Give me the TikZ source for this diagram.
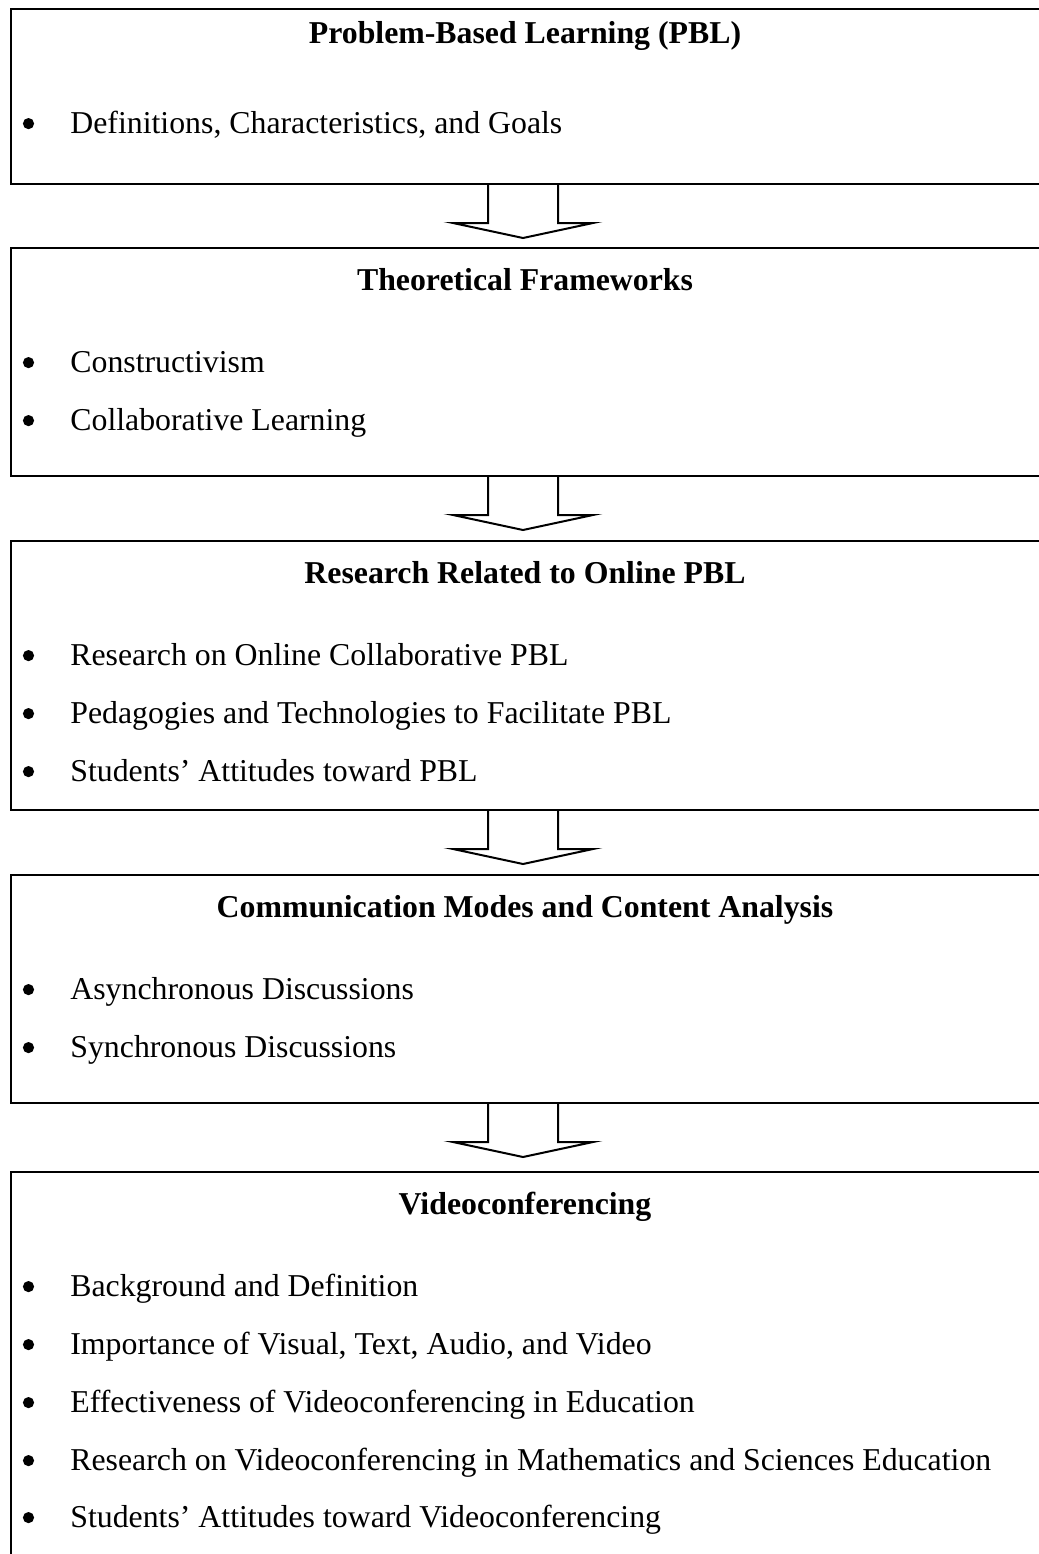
\documentclass[tikz,border=0pt]{standalone}
\usepackage{fontspec}
\setmainfont{Liberation Serif}
\usetikzlibrary{calc}
\begin{document}
\begin{tikzpicture}[x=0.5pt,y=-0.5pt,
  box/.style={draw,line width=1.4pt,inner sep=0pt,outer sep=0pt,minimum width=517pt},
  head/.style={font=\fontsize{15.9pt}{19pt}\selectfont\bfseries,anchor=base,inner sep=0pt},
  itemtext/.style={font=\fontsize{15.9pt}{19pt}\selectfont,anchor=base west,inner sep=0pt},
  bul/.style={circle,fill=black,inner sep=0pt,minimum size=5.6pt,yshift=4.7pt},
  arr/.style={line width=1pt,line join=miter}]
\useasboundingbox (0,0) rectangle (1039,1554);
% boxes
\node[box,minimum height=87.5pt] (box1) at (528,96.5) {};
\node[box,minimum height=114pt] (box2) at (528,362) {};
\node[box,minimum height=134.5pt] (box3) at (528,675.5) {};
\node[box,minimum height=114pt] (box4) at (528,989) {};
\node[box,minimum height=214pt] (box5) at (528,1386) {};
% block arrows
\newcommand{\blockarrow}[1]{%
  \draw[arr] ($(#1.south)+(-40,0)$) -- ++(0,39) -- ++(-35,0) -- ++(70,15) -- ++(70,-15) -- ++(-35,0) -- ++(0,-39);}
\blockarrow{box1}
\blockarrow{box2}
\blockarrow{box3}
\blockarrow{box4}
% box 1
\node[head] (h1) at (525,43) {Problem-Based Learning (PBL)};
\node[bul] (b1a) at (28.5,133) {};
\node[itemtext] (t1a) at (70,133) {Definitions, Characteristics, and Goals};
% box 2
\node[head] (h2) at (525,290) {Theoretical Frameworks};
\node[bul] (b2a) at (28.5,372) {};
\node[itemtext] (t2a) at (70,372) {Constructivism};
\node[bul] (b2b) at (28.5,430) {};
\node[itemtext] (t2b) at (70,430) {Collaborative Learning};
% box 3
\node[head] (h3) at (525,583) {Research Related to Online PBL};
\node[bul] (b3a) at (28.5,665) {};
\node[itemtext] (t3a) at (70,665) {Research on Online Collaborative PBL};
\node[bul] (b3b) at (28.5,723) {};
\node[itemtext] (t3b) at (70,723) {Pedagogies and Technologies to Facilitate PBL};
\node[bul] (b3c) at (28.5,781) {};
\node[itemtext] (t3c) at (70,781) {Students’ Attitudes toward PBL};
% box 4
\node[head] (h4) at (525,917) {Communication Modes and Content Analysis};
\node[bul] (b4a) at (28.5,999) {};
\node[itemtext] (t4a) at (70,999) {Asynchronous Discussions};
\node[bul] (b4b) at (28.5,1057) {};
\node[itemtext] (t4b) at (70,1057) {Synchronous Discussions};
% box 5
\node[head] (h5) at (525,1214) {Videoconferencing};
\node[bul] (b5a) at (28.5,1296) {};
\node[itemtext] (t5a) at (70,1296) {Background and Definition};
\node[bul] (b5b) at (28.5,1354) {};
\node[itemtext] (t5b) at (70,1354) {Importance of Visual, Text, Audio, and Video};
\node[bul] (b5c) at (28.5,1412) {};
\node[itemtext] (t5c) at (70,1412) {Effectiveness of Videoconferencing in Education};
\node[bul] (b5d) at (28.5,1470) {};
\node[itemtext] (t5d) at (70,1470) {Research on Videoconferencing in Mathematics and Sciences Education};
\node[bul] (b5e) at (28.5,1527) {};
\node[itemtext] (t5e) at (70,1527) {Students’ Attitudes toward Videoconferencing};
\end{tikzpicture}
\end{document}
